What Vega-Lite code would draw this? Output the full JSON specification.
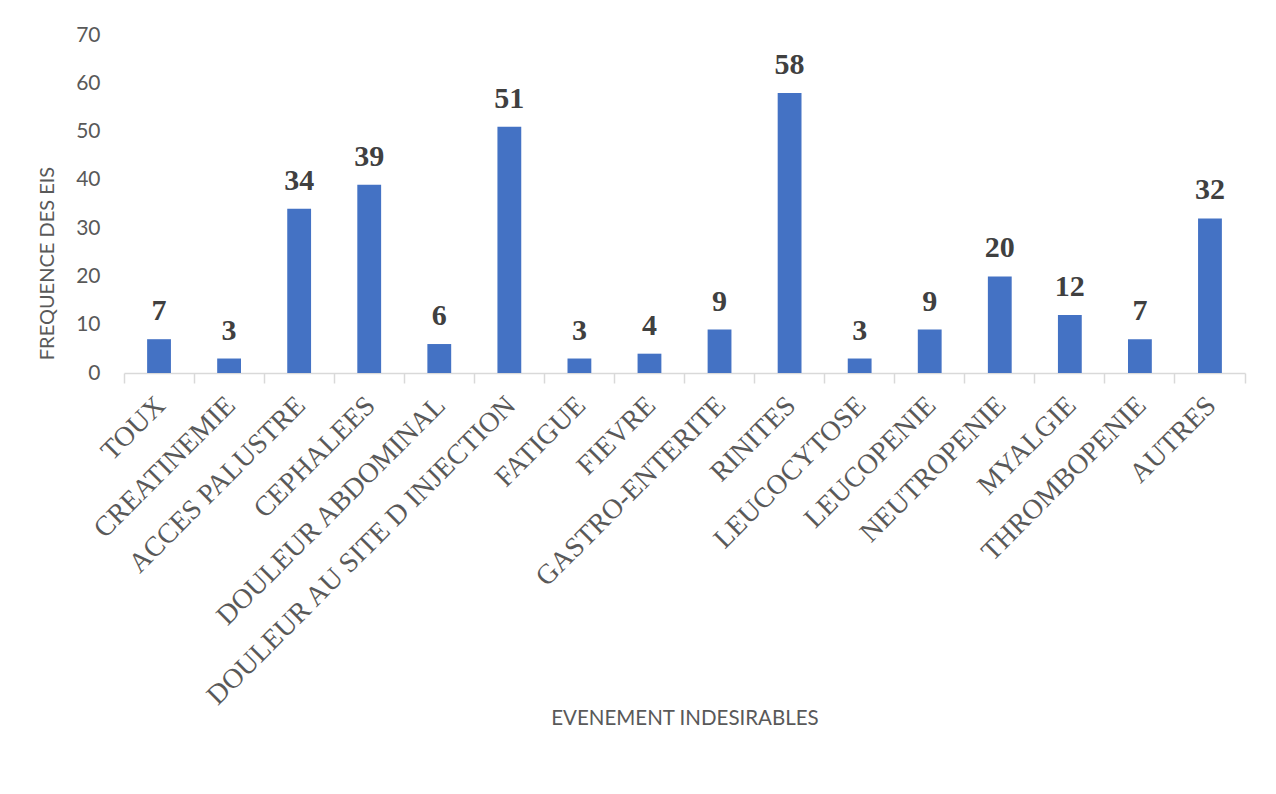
{
  "$schema": "https://vega.github.io/schema/vega-lite/v6.json",
  "autosize": "none",
  "width": 1121,
  "height": 338,
  "padding": {"left": 124, "top": 35, "right": 31, "bottom": 421},
  "background": "white",
  "config": {"view": {"stroke": null}},
  "data": {"values": [
    {"event": "TOUX", "freq": 7},
    {"event": "CREATINEMIE", "freq": 3},
    {"event": "ACCES PALUSTRE", "freq": 34},
    {"event": "CEPHALEES", "freq": 39},
    {"event": "DOULEUR ABDOMINAL", "freq": 6},
    {"event": "DOULEUR AU SITE D INJECTION", "freq": 51},
    {"event": "FATIGUE", "freq": 3},
    {"event": "FIEVRE", "freq": 4},
    {"event": "GASTRO-ENTERITE", "freq": 9},
    {"event": "RINITES", "freq": 58},
    {"event": "LEUCOCYTOSE", "freq": 3},
    {"event": "LEUCOPENIE", "freq": 9},
    {"event": "NEUTROPENIE", "freq": 20},
    {"event": "MYALGIE", "freq": 12},
    {"event": "THROMBOPENIE", "freq": 7},
    {"event": "AUTRES", "freq": 32}
  ]},
  "encoding": {
    "x": {
      "field": "event", "type": "nominal", "sort": null,
      "scale": {"paddingInner": 0, "paddingOuter": 0},
      "axis": {
        "title": "EVENEMENT INDESIRABLES",
        "titleFont": "Lato", "titleFontSize": 20.5, "titleFontWeight": "normal", "titleColor": "#595959",
        "titleY": 345, "titleBaseline": "middle",
        "bandPosition": 1, "tickExtra": true,
        "labelOffset": 2,
        "labelAngle": -45, "labelAlign": "right", "labelBaseline": "middle",
        "labelFont": "Liberation Serif", "labelFontSize": 28, "labelColor": "#595959",
        "labelPadding": 18, "labelOverlap": false, "labelLimit": 0,
        "domainColor": "#d9d9d9", "domainWidth": 1.5,
        "tickColor": "#d9d9d9", "tickSize": 10, "tickWidth": 1.5
      }
    },
    "y": {
      "field": "freq", "type": "quantitative",
      "scale": {"domain": [0, 70]},
      "axis": {
        "title": "FREQUENCE DES EIS",
        "titleFont": "Lato", "titleFontSize": 20, "titleFontWeight": "normal", "titleColor": "#595959",
        "titleX": -77, "titleY": 228, "titleAngle": -90, "titleBaseline": "middle",
        "values": [0, 10, 20, 30, 40, 50, 60, 70],
        "grid": false, "domain": false, "ticks": false,
        "labelFont": "Lato", "labelFontSize": 21, "labelColor": "#595959",
        "labelPadding": 24
      }
    }
  },
  "layer": [
    {"mark": {"type": "bar", "color": "#4472C4", "width": {"band": 0.34}}},
    {
      "mark": {"type": "text", "font": "Liberation Serif", "fontWeight": "bold", "fontSize": 30, "color": "#404040", "baseline": "alphabetic", "dy": -19},
      "encoding": {"text": {"field": "freq", "type": "quantitative"}}
    }
  ]
}
